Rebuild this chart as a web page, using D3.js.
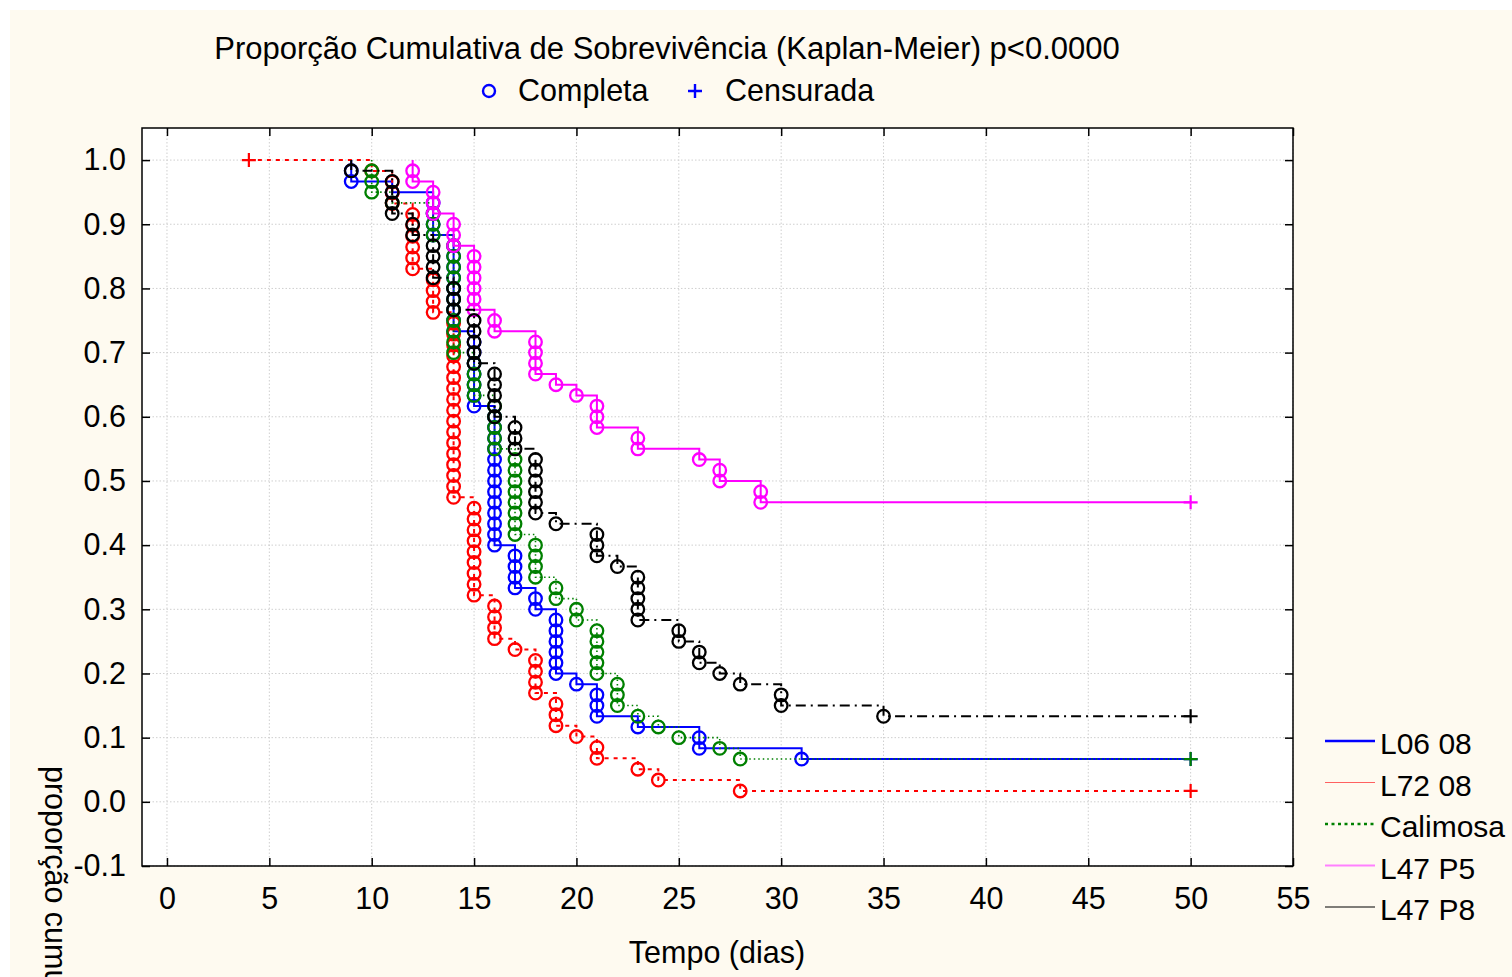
<!DOCTYPE html>
<html>
<head>
<meta charset="utf-8">
<script src="https://cdn.jsdelivr.net/npm/d3@7"></script>
<style>
  body { margin: 0; background: #fff; }
  svg text { font-family: "Liberation Sans", Arial, sans-serif; fill: #000; }
</style>
</head>
<body>
<div id="chart"></div>
<script>
// mortes por dia: [tempo, n] ; censurados: [tempo, n]
const sampleSize = 60;

const l0608Deaths = [[9, 2], [11, 1], [13, 4], [14, 9], [15, 7], [16, 13], [17, 4], [18, 2], [19, 6], [20, 1], [21, 3], [23, 1], [26, 2], [31, 1]];
const l0608Censored = [[50, 4]];

const l7208Deaths = [[10, 1], [11, 3], [12, 6], [13, 4], [14, 17], [15, 9], [16, 4], [17, 1], [18, 4], [19, 3], [20, 1], [21, 2], [23, 1], [24, 1], [28, 1]];
const l7208Censored = [[4, 1], [50, 1]];

const calimosaDeaths = [[10, 3], [11, 1], [13, 3], [14, 11], [15, 4], [16, 5], [17, 8], [18, 4], [19, 2], [20, 2], [21, 5], [22, 3], [23, 1], [24, 1], [25, 1], [27, 1], [28, 1]];
const calimosaCensored = [[50, 4]];

const l47p5Deaths = [[12, 2], [13, 3], [14, 3], [15, 6], [16, 2], [18, 4], [19, 1], [20, 1], [21, 3], [23, 2], [26, 1], [27, 2], [29, 2]];
const l47p5Censored = [[50, 28]];

const l47p8Deaths = [[9, 1], [11, 4], [12, 2], [13, 4], [14, 3], [15, 5], [16, 5], [17, 3], [18, 6], [19, 1], [21, 3], [22, 1], [23, 5], [25, 2], [26, 2], [27, 1], [28, 1], [30, 2], [35, 1]];
const l47p8Censored = [[50, 8]];

const seriesNames = ['L06 08', 'L72 08', 'Calimosa', 'L47 P5', 'L47 P8'];
const xTicks = [0, 5, 10, 15, 20, 25, 30, 35, 40, 45, 50, 55];
const yTicks = [-0.1, 0.0, 0.1, 0.2, 0.3, 0.4, 0.5, 0.6, 0.7, 0.8, 0.9, 1.0];

const titleText = 'Proporção Cumulativa de Sobrevivência (Kaplan-Meier) p<0.0000';
const xTitle = 'Tempo (dias)';
const yTitle = 'proporção cumulativa';

const seriesData = [
    [l0608Deaths, l0608Censored],
    [l7208Deaths, l7208Censored],
    [calimosaDeaths, calimosaCensored],
    [l47p5Deaths, l47p5Censored],
    [l47p8Deaths, l47p8Censored]
];

const styles = [
    { color: '#0000ff', width: 2, dash: null, legW: 2.5, legDash: null, legColor: '#0000ff' },
    { color: '#ff0000', width: 2, dash: '4,5', legW: 1, legDash: null, legColor: '#ff6060' },
    { color: '#008000', width: 1.6, dash: '1.5,3', legW: 2.5, legDash: '3,3.5', legColor: '#008000' },
    { color: '#ff00ff', width: 2, dash: null, legW: 2, legDash: null, legColor: '#ff80ff' },
    { color: '#000000', width: 2, dash: '10,5,2,5', legW: 1, legDash: null, legColor: '#000000' }
];

function kaplanMeier(deaths, censored) {
    const events = [];
    deaths.forEach(([t, d]) => events.push({ t, d, c: 0 }));
    censored.forEach(([t, c]) => events.push({ t, d: 0, c }));
    events.sort((a, b) => a.t - b.t || b.d - a.d);

    let atRisk = sampleSize;
    let s = 1;
    const circles = [], pluses = [], path = [];
    events.forEach(e => {
        if (!path.length) path.push([e.t, 1]);
        for (let j = 1; j <= e.d; j++) circles.push([e.t, s * (1 - j / atRisk)]);
        s *= 1 - e.d / atRisk;
        atRisk -= e.d;
        if (e.c) {
            pluses.push([e.t, s]);
            atRisk -= e.c;
        }
        path.push([e.t, s]);
    });
    return { circles, pluses, path };
}

const width = 1512, height = 977;
const fontSize = '30.5px';
const svg = d3.select('#chart').append('svg')
    .attr('width', width)
    .attr('height', height);

svg.append('rect').attr('width', width).attr('height', height).attr('fill', '#ffffff');
svg.append('rect').attr('x', 10).attr('y', 10).attr('width', width - 10).attr('height', height - 10).attr('fill', '#fefaf0');

const x = d3.scaleLinear().domain([-1.22, 55]).range([142, 1293]);
const y = d3.scaleLinear().domain([-0.1, 1.05]).range([866, 128]);

const [x0, x1] = x.range();
const [y0, y1] = y.range();

svg.append('rect')
    .attr('x', x0).attr('y', y1)
    .attr('width', x1 - x0).attr('height', y0 - y1)
    .attr('fill', '#ffffff');

// grid
const grid = svg.append('g');
xTicks.forEach(t => {
    grid.append('line')
        .attr('x1', x(t)).attr('x2', x(t))
        .attr('y1', y1).attr('y2', y0)
        .attr('stroke', '#cfcfcf')
        .attr('stroke-dasharray', '1.5,2');
});
yTicks.forEach(t => {
    grid.append('line')
        .attr('x1', x0).attr('x2', x1)
        .attr('y1', y(t)).attr('y2', y(t))
        .attr('stroke', '#cfcfcf')
        .attr('stroke-dasharray', '1.5,2');
});

// axes with inward ticks
const fmt = d => d3.format('.1f')(d).replace('\u2212', '-');
const axisLeft = svg.append('g')
    .attr('transform', `translate(${x0},0)`)
    .call(d3.axisLeft(y).tickValues(yTicks).tickFormat(fmt).tickSizeInner(-8).tickSizeOuter(0).tickPadding(16));
const axisRight = svg.append('g')
    .attr('transform', `translate(${x1},0)`)
    .call(d3.axisRight(y).tickValues(yTicks).tickFormat('').tickSizeInner(-8).tickSizeOuter(0));
const axisBottom = svg.append('g')
    .attr('transform', `translate(0,${y0})`)
    .call(d3.axisBottom(x).tickValues(xTicks).tickFormat(d3.format('d')).tickSizeInner(-8).tickSizeOuter(0).tickPadding(21));
const axisTop = svg.append('g')
    .attr('transform', `translate(0,${y1})`)
    .call(d3.axisTop(x).tickValues(xTicks).tickFormat('').tickSizeInner(-8).tickSizeOuter(0));

[axisLeft, axisRight, axisBottom, axisTop].forEach(a => {
    a.select('.domain').remove();
    a.selectAll('line').attr('stroke', '#000').attr('stroke-width', 1.5);
    a.selectAll('text').attr('font-size', fontSize).attr('fill', '#000');
});
axisBottom.selectAll('text').attr('dy', '0.71em');

// series
const line = d3.line()
    .x(d => x(d[0]))
    .y(d => y(d[1]))
    .curve(d3.curveStepAfter);

seriesData.forEach(([deaths, censored], i) => {
    const st = styles[i];
    const km = kaplanMeier(deaths, censored);
    const g = svg.append('g');

    g.append('path')
        .datum(km.path)
        .attr('d', line)
        .attr('fill', 'none')
        .attr('stroke', st.color)
        .attr('stroke-width', st.width)
        .attr('stroke-dasharray', st.dash);

    g.selectAll('circle')
        .data(km.circles)
        .enter().append('circle')
        .attr('cx', d => x(d[0]))
        .attr('cy', d => y(d[1]))
        .attr('r', 6.3)
        .attr('fill', 'none')
        .attr('stroke', st.color)
        .attr('stroke-width', 2.3);

    km.pluses.forEach(d => {
        const cx = x(d[0]), cy = y(d[1]);
        g.append('path')
            .attr('d', `M${cx - 7},${cy}H${cx + 7}M${cx},${cy - 7}V${cy + 7}`)
            .attr('stroke', st.color)
            .attr('stroke-width', 2.2);
    });
});

// frame
svg.append('rect')
    .attr('x', x0).attr('y', y1)
    .attr('width', x1 - x0).attr('height', y0 - y1)
    .attr('fill', 'none')
    .attr('stroke', '#000')
    .attr('stroke-width', 1.5);

// titles
svg.append('text')
    .attr('x', 667).attr('y', 59)
    .attr('text-anchor', 'middle')
    .attr('font-size', '31px')
    .text(titleText);

svg.append('text')
    .attr('x', 717).attr('y', 963)
    .attr('text-anchor', 'middle')
    .attr('font-size', fontSize)
    .text(xTitle);

svg.append('text')
    .attr('transform', 'translate(45,766) rotate(90)')
    .attr('font-size', fontSize)
    .text(yTitle);

// top legend
svg.append('circle')
    .attr('cx', 489).attr('cy', 91).attr('r', 6)
    .attr('fill', 'none').attr('stroke', '#0000ff').attr('stroke-width', 2.4);
svg.append('text')
    .attr('x', 518).attr('y', 101)
    .attr('font-size', fontSize)
    .text('Completa');
svg.append('path')
    .attr('d', 'M688,91H702M695,84V98')
    .attr('stroke', '#0000ff').attr('stroke-width', 2.4);
svg.append('text')
    .attr('x', 725).attr('y', 101)
    .attr('font-size', fontSize)
    .text('Censurada');

// series legend
seriesNames.forEach((name, i) => {
    const st = styles[i];
    const ly = 744 + i * 41.5;
    svg.append('line')
        .attr('x1', 1325).attr('x2', 1375)
        .attr('y1', ly - 3).attr('y2', ly - 3)
        .attr('stroke', st.legColor)
        .attr('stroke-width', st.legW)
        .attr('stroke-dasharray', st.legDash);
    svg.append('text')
        .attr('x', 1380).attr('y', ly + 10)
        .attr('font-size', '30px')
        .text(name);
});
</script>
</body>
</html>
